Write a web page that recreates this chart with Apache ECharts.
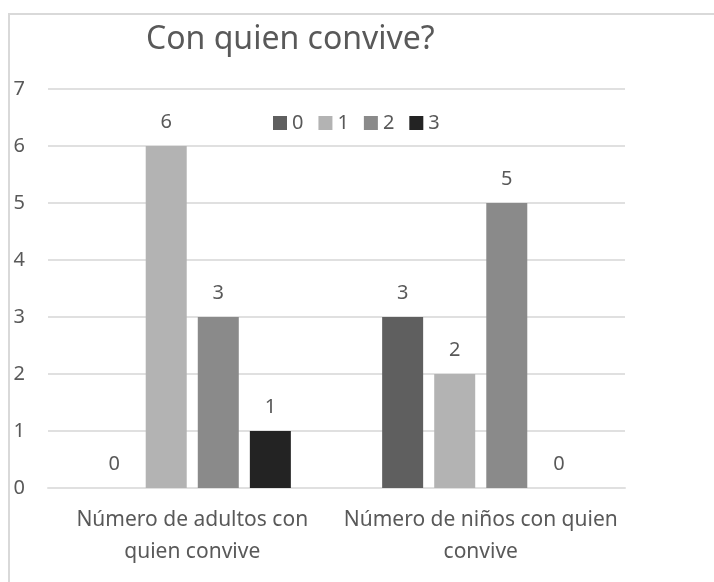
<!DOCTYPE html>
<html>
<head>
<meta charset="utf-8">
<script src="https://cdn.jsdelivr.net/npm/echarts@6/dist/echarts.min.js"></script>
<style>
html,body{margin:0;padding:0;background:#fff;}
#chart{width:714px;height:582px;}
</style>
</head>
<body>
<div id="chart"></div>
<script>
var titleText = 'Con quien convive?';
var categories = ['Número de adultos con\nquien convive', 'Número de niños con quien\nconvive'];
var seriesNames = ['0', '1', '2', '3'];
var values0 = [0, 3];
var values1 = [6, 2];
var values2 = [3, 5];
var values3 = [1, 0];
var colors = ['#5f5f5f', '#b3b3b3', '#8a8a8a', '#232323'];
var yMin = 0, yMax = 7, yInterval = 1;

var FONT = 'Noto Sans';
var TEXT = '#595959';
var allValues = [values0, values1, values2, values3];

var chart = echarts.init(document.getElementById('chart'), null, {renderer: 'canvas'});
var series = seriesNames.map(function (name, i) {
  return {
    name: name,
    type: 'bar',
    data: allValues[i],
    barWidth: 41,
    barGap: '27%',
    itemStyle: {color: colors[i]},
    label: {
      show: true,
      position: 'top',
      distance: 14,
      fontFamily: FONT,
      fontSize: 20,
      color: TEXT
    }
  };
});

chart.setOption({
  animation: false,
  backgroundColor: '#fff',
  graphic: [{
    type: 'rect',
    z: -10,
    shape: {x: 9, y: 14, width: 1000, height: 1000},
    style: {fill: 'none', stroke: '#d9d9d9', lineWidth: 2}
  }],
  title: {
    text: titleText,
    left: 146,
    top: 24,
    padding: 0,
    textStyle: {fontFamily: FONT, fontSize: 32, fontWeight: 'normal', color: TEXT}
  },
  legend: {
    data: seriesNames,
    left: 273,
    top: 113,
    padding: 0,
    itemWidth: 14,
    itemHeight: 14,
    itemGap: 15,
    icon: 'rect',
    textStyle: {fontFamily: FONT, fontSize: 20, color: TEXT}
  },
  grid: {left: 48, right: 89, top: 89, bottom: 94, containLabel: false},
  xAxis: {
    type: 'category',
    data: categories,
    axisLine: {show: true, lineStyle: {color: '#e0e0e0', width: 2}},
    axisTick: {show: false},
    axisLabel: {
      fontFamily: FONT,
      fontSize: 21,
      lineHeight: 32,
      color: TEXT,
      margin: 16,
      interval: 0
    }
  },
  yAxis: {
    type: 'value',
    min: yMin,
    max: yMax,
    interval: yInterval,
    axisLine: {show: false},
    axisTick: {show: false},
    splitLine: {lineStyle: {color: '#e0e0e0', width: 2}},
    axisLabel: {fontFamily: FONT, fontSize: 20, color: TEXT, margin: 23}
  },
  series: series
});
</script>
</body>
</html>
